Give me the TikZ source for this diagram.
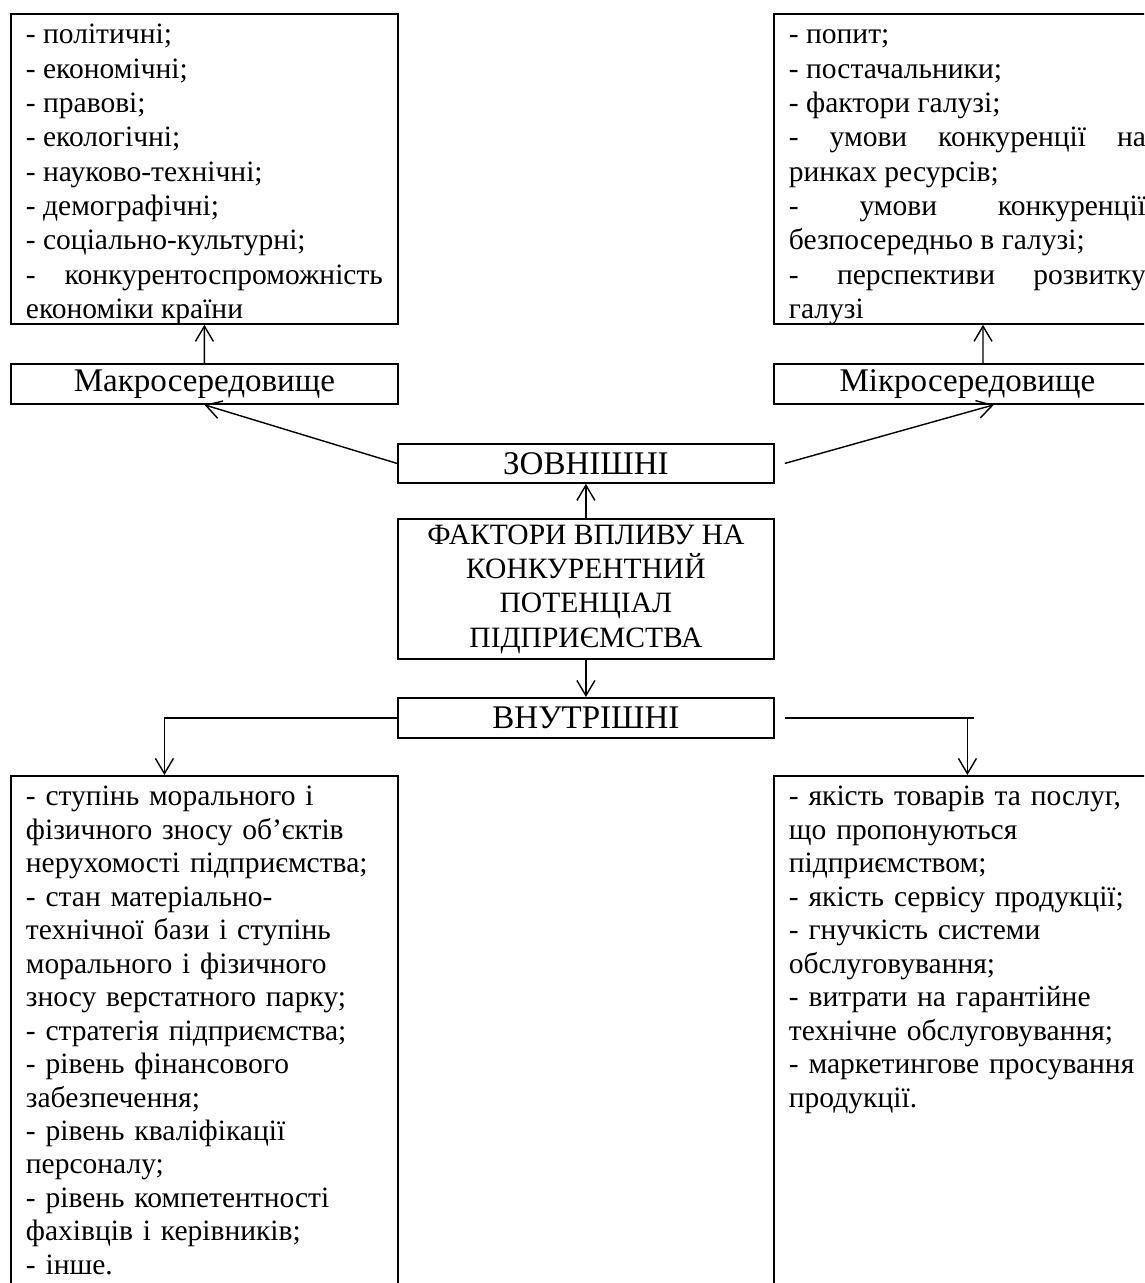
\documentclass[tikz,border=0pt]{standalone}
\usepackage{fontspec}
\setmainfont{Liberation Serif}
\usetikzlibrary{arrows.meta}
\hyphenpenalty=10000
\exhyphenpenalty=10000
\begin{document}
\begin{tikzpicture}[>={Straight Barb[length=0.38cm,width=0.45cm]}, color=black, line width=1pt,
	every node/.style={font=\fontsize{21}{23.8}\selectfont},
	listbox/.style={draw, line width=1.3pt, anchor=north west, text width=8.925cm, inner xsep=0.375cm, inner ysep=0.15cm, text height=0.6cm},
	topbox/.style={listbox, align=justify, text depth=6.85cm, font=\fontsize{21}{24.4}\selectfont},
	lowbox/.style={listbox, align=left, text depth=13cm},
	midbox/.style={draw, line width=1.3pt, anchor=north west, inner sep=0pt, align=center, minimum height=1cm, font=\fontsize{23.5}{26}\selectfont}]
		\useasboundingbox (0,0) rectangle (28.6,-32.075);
		\clip (0,0) rectangle (28.6,-32.075);
		\node[topbox] (macrolist) at (0.25,-0.325) {- політичні;\\- економічні;\\- правові;\\- екологічні;\\- науково-технічні;\\- демографічні;\\- соціально-культурні;\\- конкурентоспроможність\linebreak економіки країни};
		\node[topbox] (microlist) at (19.325,-0.325) {- попит;\\- постачальники;\\- фактори галузі;\\- умови конкуренції на\linebreak ринках ресурсів;\\- умови конкуренції\linebreak безпосередньо в галузі;\\- перспективи розвитку\linebreak галузі};
		\node[midbox, minimum width=9.675cm] (macro) at (0.25,-9.075) {Макросередовище};
		\node[midbox, minimum width=9.675cm] (micro) at (19.325,-9.075) {Мікросередовище};
		\node[midbox, minimum width=9.4cm, minimum height=0.975cm] (zovn) at (9.925,-11.075) {ЗОВНІШНІ};
		\node[midbox, minimum width=9.4cm, minimum height=3.5cm, font=\fontsize{21}{24.4}\selectfont] (factors) at (9.925,-12.95) {ФАКТОРИ ВПЛИВУ НА\\КОНКУРЕНТНИЙ\\ПОТЕНЦІАЛ\\ПІДПРИЄМСТВА};
		\node[midbox, minimum width=9.4cm] (vnutr) at (9.925,-17.425) {ВНУТРІШНІ};
		\node[lowbox] (lowleft) at (0.25,-19.375) {- ступінь морального і\\фізичного зносу об’єктів\\нерухомості підприємства;\\- стан матеріально-\\технічної бази і ступінь\\морального і фізичного\\зносу верстатного парку;\\- стратегія підприємства;\\- рівень фінансового\\забезпечення;\\- рівень кваліфікації\\персоналу;\\- рівень компетентності\\фахівців і керівників;\\- інше.};
		\node[lowbox] (lowright) at (19.325,-19.375) {- якість товарів та послуг,\\що пропонуються\\підприємством;\\- якість сервісу продукції;\\- гнучкість системи\\обслуговування;\\- витрати на гарантійне\\технічне обслуговування;\\- маркетингове просування\\продукції.};
		\draw[->] (macro) -- (macrolist);
		\draw[->] ([xshift=0.39cm]micro.north) -- ([xshift=0.39cm]microlist.south);
		\draw[->] (factors) -- (zovn);
		\draw[->] (factors) -- (vnutr);
		\draw[->] (zovn.west) -- (macro.south);
		\draw[->] ([xshift=0.25cm]zovn.east) -- ([xshift=0.66cm]micro.south);
		\draw[->] (vnutr.west) -| ([xshift=-1cm]lowleft.north);
		\draw ([xshift=0.25cm]vnutr.east) -- ++(4.725,0);
		\draw[->] (vnutr.east -| lowright.north) -- (lowright.north);
\end{tikzpicture}
\end{document}
